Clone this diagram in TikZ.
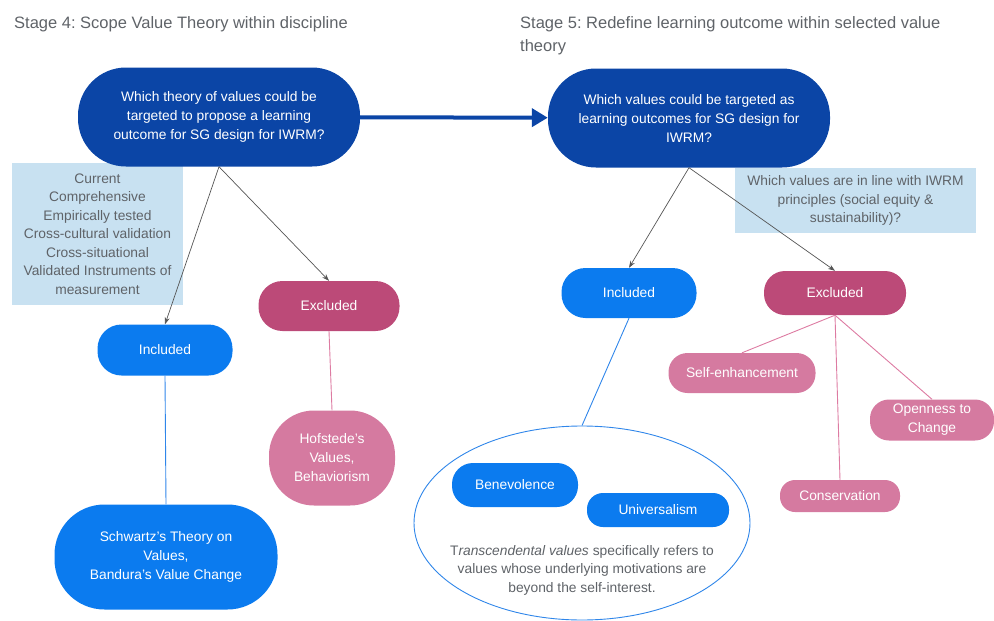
\documentclass[tikz,border=0pt]{standalone}
\usepackage{fontspec}
\setmainfont{Liberation Sans}
\usetikzlibrary{arrows.meta,shapes.geometric}
\frenchspacing

\definecolor{qblue}{HTML}{0B45A6}
\definecolor{incblue}{HTML}{0B7BEF}
\definecolor{exclred}{HTML}{BC4A78}
\definecolor{valpink}{HTML}{D57AA0}
\definecolor{noteblue}{HTML}{C8E1F1}
\definecolor{notegray}{HTML}{5F6368}
\definecolor{arrowgray}{HTML}{555555}
\definecolor{pinkline}{HTML}{DD7BA2}
\definecolor{blueline}{HTML}{2F86EA}

\tikzset{
  pill/.style={rectangle, text=white, align=center, inner sep=2pt,
    font=\fontsize{13.8}{19}\selectfont},
  question/.style={pill, fill=qblue, minimum width=282pt, minimum height=99pt,
    rounded corners=48pt},
  included/.style={pill, fill=incblue},
  excluded/.style={pill, fill=exclred},
  valuebox/.style={pill, fill=valpink},
  note/.style={fill=noteblue, text=notegray, align=center, inner sep=0pt,
    font=\fontsize{13.8}{18.5}\selectfont},
  flow/.style={draw=arrowgray, line width=0.7pt, -{Stealth[length=7pt,width=5pt]}},
  stagetitle/.style={anchor=west, text=notegray, align=left, inner sep=0pt,
    font=\fontsize{16.5}{23}\selectfont}
}

\begin{document}
\begin{tikzpicture}[x=1pt,y=-1pt]
    \useasboundingbox (0,0) rectangle (994,621);

    % Stage titles
    \node[stagetitle] (stagefour) at (14,24) {Stage 4: Scope Value Theory within discipline};
    \node[stagetitle] (stagefive) at (520,36) {Stage 5: Redefine learning outcome within selected value\\theory};

    % Criteria and principle notes (behind the questions)
    \node[note, minimum width=171pt, minimum height=142pt] (criteria) at (97.5,234)
      {Current\\Comprehensive\\Empirically tested\\Cross-cultural validation\\Cross-situational\\Validated Instruments of\\measurement};
    \node[note, minimum width=241pt, minimum height=65pt] (principles) at (855.5,200.5)
      {Which values are in line with IWRM\\principles (social equity \&\\sustainability)?};

    % The two questions
    \node[question] (qtheory) at (219,117)
      {Which theory of values could be\\targeted to propose a learning\\outcome for SG design for IWRM?};
    \node[question] (qvalues) at (689,118)
      {Which values could be targeted as\\learning outcomes for SG design for\\IWRM?};
    \draw[qblue, line width=4pt, -{Triangle[length=16pt,width=18pt]}] (qtheory) -- (qvalues);

    % Stage 4 branches
    \node[included, minimum width=135pt, minimum height=51pt, rounded corners=24pt] (incfour) at (165,350) {Included};
    \node[excluded, minimum width=141pt, minimum height=50pt, rounded corners=24pt] (excfour) at (329,306) {Excluded};
    \draw[flow] (qtheory.south) -- (incfour.north);
    \draw[flow] (qtheory.south) -- (excfour.north);

    \node[included, minimum width=223pt, minimum height=105pt, rounded corners=50pt] (schwartz) at (166,557)
      {Schwartz's Theory on\\Values,\\Bandura's Value Change};
    \node[valuebox, minimum width=126pt, minimum height=95pt, rounded corners=45pt] (hofstede) at (332,458)
      {Hofstede's\\Values,\\Behaviorism};
    \draw[blueline, line width=0.9pt] (incfour.south) -- (schwartz.north);
    \draw[pinkline, line width=0.9pt] (excfour.south) -- (hofstede.north);

    % Stage 5 branches
    \node[included, minimum width=135pt, minimum height=50pt, rounded corners=24pt] (incfive) at (629,293) {Included};
    \node[excluded, minimum width=142pt, minimum height=44pt, rounded corners=21pt] (excfive) at (835,293) {Excluded};
    \draw[flow] (qvalues.south) -- (incfive.north);
    \draw[flow] (qvalues.south) -- (excfive.north);

    % Transcendental values
    \node[ellipse, draw=blueline, line width=0.9pt, fill=white, minimum width=336pt, minimum height=194pt] (transc) at (582,523) {};
    \draw[blueline, line width=0.9pt] (incfive.south) -- (transc.north);
    \node[included, minimum width=126pt, minimum height=44pt, rounded corners=21pt] (benev) at (515,485) {Benevolence};
    \node[included, minimum width=142pt, minimum height=34pt, rounded corners=16pt] (univ) at (658,510) {Universalism};
    \node[text=notegray, align=center, inner sep=0pt, font=\fontsize{13.8}{18.5}\selectfont] (transtext) at (582,570)
      {T\textit{ranscendental values} specifically refers to\\values whose underlying motivations are\\beyond the self-interest.};

    % Excluded values
    \node[valuebox, minimum width=147pt, minimum height=40pt, rounded corners=19pt] (selfenh) at (742,373) {Self-enhancement};
    \node[valuebox, minimum width=124pt, minimum height=41pt, rounded corners=19pt] (openness) at (932,420) {Openness to\\Change};
    \node[valuebox, minimum width=120pt, minimum height=32pt, rounded corners=15pt] (conserv) at (840,496) {Conservation};
    \draw[pinkline, line width=0.9pt] (excfive.south) -- (selfenh.north);
    \draw[pinkline, line width=0.9pt] (excfive.south) -- (openness.north);
    \draw[pinkline, line width=0.9pt] (excfive.south) -- (conserv.north);
\end{tikzpicture}
\end{document}
